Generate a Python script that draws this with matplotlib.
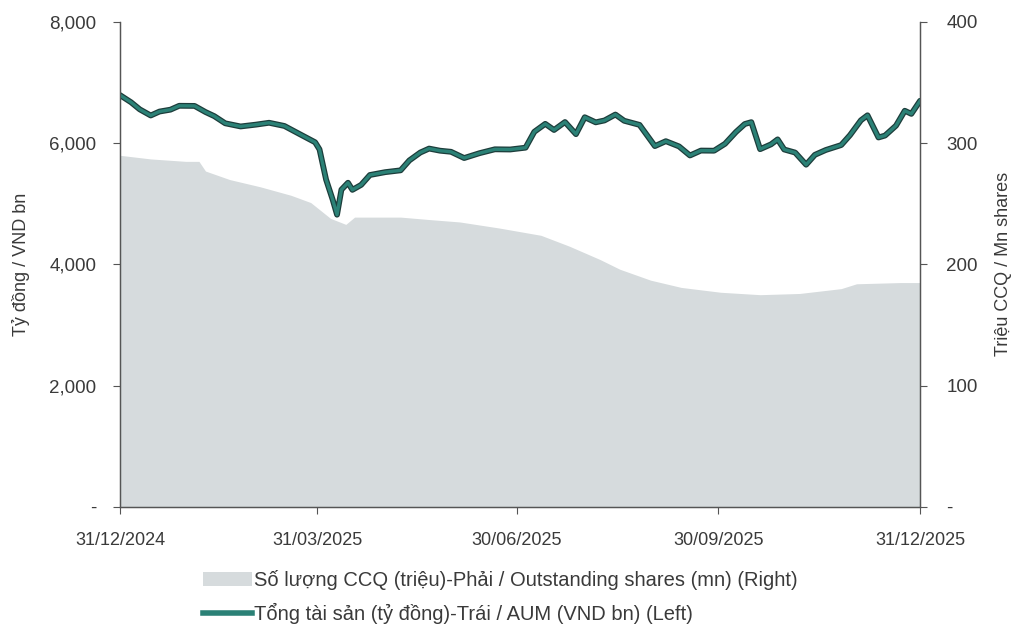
import matplotlib
matplotlib.use('Agg')
import matplotlib.pyplot as plt
import matplotlib.dates as mdates
import matplotlib.ticker as mticker
from matplotlib.patches import Patch
from matplotlib.lines import Line2D
import pandas as pd

#---    Data (days since 31/12/2024)
start = pd.Timestamp('2024-12-31')

aum_days = [0, 5, 9, 14, 18, 23, 27, 34, 39, 43, 48, 55, 62, 68, 75, 82, 89, 91, 94, 97,
            99, 101, 104, 106, 110, 114, 121, 128, 132, 137, 141, 146, 151, 157, 164, 171,
            178, 185, 189, 194, 198, 203, 208, 212, 217, 221, 226, 230, 237, 244, 249, 255,
            260, 265, 271, 276, 281, 285, 288, 292, 297, 300, 303, 308, 313, 317, 322, 329,
            333, 338, 341, 346, 349, 354, 358, 361, 365]
aum_vals = [6793, 6676, 6558, 6457, 6522, 6553, 6617, 6615, 6514, 6446, 6328, 6276, 6306,
            6337, 6284, 6149, 6015, 5898, 5400, 5069, 4820, 5233, 5347, 5230, 5312, 5475,
            5522, 5552, 5716, 5846, 5911, 5876, 5858, 5755, 5835, 5899, 5896, 5926, 6188,
            6319, 6218, 6349, 6149, 6428, 6344, 6375, 6473, 6370, 6302, 5952, 6033, 5947,
            5797, 5878, 5876, 5990, 6185, 6316, 6347, 5901, 5981, 6063, 5896, 5845, 5645,
            5808, 5888, 5969, 6132, 6378, 6460, 6094, 6126, 6289, 6535, 6484, 6700]

shares_days = [0, 14, 30, 36, 39, 50, 64, 78, 87, 96, 103, 107, 128, 141, 155, 173, 192,
               205, 219, 228, 242, 256, 274, 292, 310, 329, 336, 356, 365]
shares_vals = [290, 287, 285, 285, 277, 270, 264, 257, 251, 238, 233, 239, 239, 237, 235,
               230, 224, 215, 204, 196, 187, 181, 177, 175, 176, 180, 184, 185, 185]

tick_dates = ['2024-12-31', '2025-03-31', '2025-06-30', '2025-09-30', '2025-12-31']

label_shares = 'Số lượng CCQ (triệu)-Phải / Outstanding shares (mn) (Right)'
label_aum = 'Tổng tài sản (tỷ đồng)-Trái / AUM (VND bn) (Left)'

aum_x = start + pd.to_timedelta(aum_days, unit='D')
shares_x = start + pd.to_timedelta(shares_days, unit='D')

plt.rcParams['font.family'] = ['Liberation Sans', 'DejaVu Sans']
fs = 13.5
txt_color = '#3a3a3a'
area_color = '#d6dbdd'
line_color = '#2b8176'

fig = plt.figure(figsize=(10.12, 6.28), dpi=100)
ax = fig.add_axes([0.1186, 0.193, 0.7906, 0.772])
ax2 = ax.twinx()

# area on right axis
ax2.fill_between(shares_x, 0, shares_vals, color=area_color, linewidth=0)
# AUM line on left axis, drawn on top
ax.set_zorder(ax2.get_zorder() + 1)
ax.patch.set_visible(False)
ax.plot(aum_x, aum_vals, color='#1d3d3b', linewidth=4.2, solid_capstyle='round', solid_joinstyle='round')
ax.plot(aum_x, aum_vals, color=line_color, linewidth=2.4, solid_joinstyle='round')

ax.set_ylim(0, 8000)
ax2.set_ylim(0, 400)
ax.set_xlim(pd.Timestamp(tick_dates[0]), pd.Timestamp(tick_dates[-1]))
ax.set_xticks([pd.Timestamp(d) for d in tick_dates])
ax.xaxis.set_major_formatter(mdates.DateFormatter('%d/%m/%Y'))

ax.set_yticks([0, 2000, 4000, 6000, 8000])
ax.yaxis.set_major_formatter(mticker.FuncFormatter(lambda v, p: '-' if v == 0 else '{:,.0f}'.format(v)))
ax2.set_yticks([0, 100, 200, 300, 400])
ax2.yaxis.set_major_formatter(mticker.FuncFormatter(lambda v, p: '-' if v == 0 else '{:.0f}'.format(v)))

for a in [ax, ax2]:
    a.spines['top'].set_visible(False)
    for s in ['left', 'right', 'bottom']:
        a.spines[s].set_color('#555555')
        a.spines[s].set_linewidth(0.9)
    a.tick_params(labelsize=fs, colors=txt_color, length=5, width=0.8, color='#555555')

ax.tick_params(axis='x', pad=13, labelsize=13)
ax.tick_params(axis='y', pad=12)
ax2.tick_params(axis='y', pad=14)

ax.set_ylabel('Tỷ đồng / VND bn', fontsize=13, color=txt_color, labelpad=14)
ax2.set_ylabel('Triệu CCQ / Mn shares', fontsize=13, color=txt_color, labelpad=12)

# legend
handles = [Patch(facecolor=area_color, edgecolor='none'),
           Line2D([0], [0], color=line_color, linewidth=4)]
fig.legend(handles, [label_shares, label_aum], loc='upper left', bbox_to_anchor=(0.193, 0.105),
           frameon=False, fontsize=14.5, labelcolor=txt_color, handlelength=2.4,
           handletextpad=0.1, labelspacing=0.65, borderaxespad=0)

plt.savefig('out.png', dpi=100)
